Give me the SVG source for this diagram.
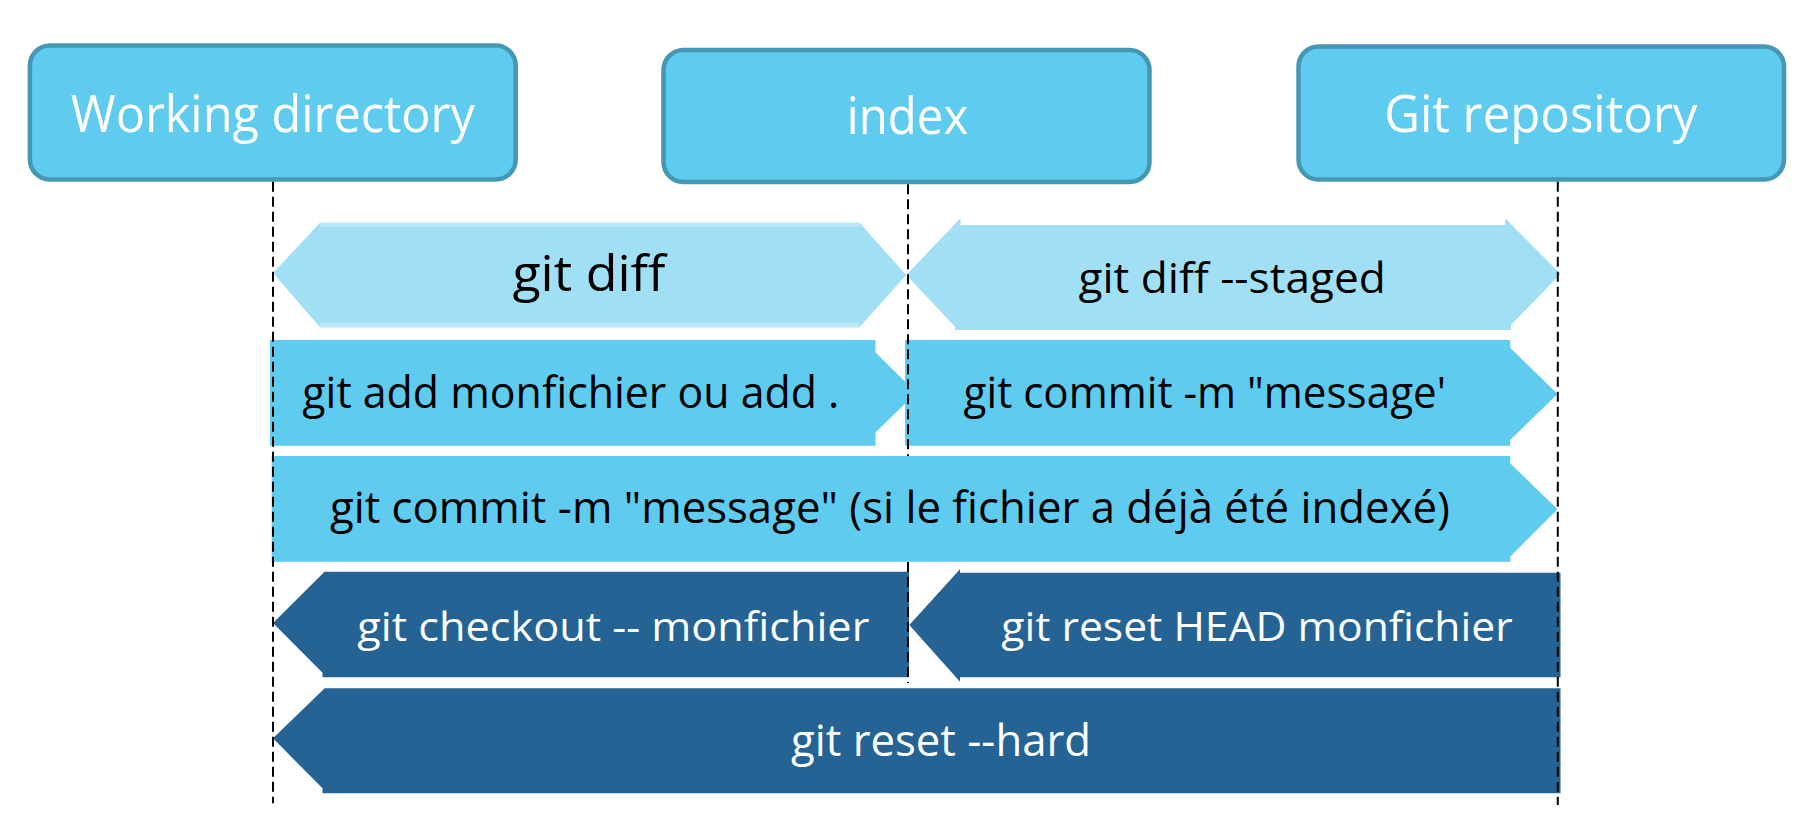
<svg xmlns="http://www.w3.org/2000/svg" width="1808" height="826" viewBox="0 0 1808 826">
<style>
  .node rect { fill: #5ECBEF; stroke: #4597B3; stroke-width: 4.5; }
  .ntxt { font-family: "Open Sans", "Noto Sans", "Liberation Sans", sans-serif; fill: #FFFFFF; font-size: 52px; }
  .light { fill: #A1E0F4; }
  .band { fill: #BCE9F8; }
  .mid { fill: #5ECBEF; }
  .dark { fill: #246394; }
  .btxt { font-family: "Open Sans", "Noto Sans", "Liberation Sans", sans-serif; fill: #000000; }
  .wtxt { font-family: "Open Sans", "Noto Sans", "Liberation Sans", sans-serif; fill: #FFFFFF; }
  .life { stroke: #000000; stroke-width: 2; stroke-dasharray: 10 5; fill: none; }
</style>
<rect x="0" y="0" width="1808" height="826" fill="#FFFFFF"/>

<g id="node-working-directory" class="node">
  <rect x="29.9" y="45.6" width="485.8" height="133.8" rx="20" ry="20"/>
  <text class="ntxt" x="70.8" y="131.7" textLength="404" lengthAdjust="spacingAndGlyphs">Working directory</text>
</g>
<g id="node-index" class="node">
  <rect x="663.5" y="50" width="486" height="132" rx="20" ry="20"/>
  <text class="ntxt" x="846.8" y="134" font-size="50" textLength="121.4" lengthAdjust="spacingAndGlyphs">index</text>
</g>
<g id="node-git-repository" class="node">
  <rect x="1298.5" y="46.6" width="485.5" height="133" rx="20" ry="20"/>
  <text class="ntxt" x="1384.2" y="131.7" textLength="313.3" lengthAdjust="spacingAndGlyphs">Git repository</text>
</g>

<g id="connectors">
  <g id="arrow-git-diff">
    <polygon class="light" points="273,273 320,222.7 859.5,222.7 906.2,275 859.5,327.3 320,327.3"/>
    <rect class="band" x="320" y="222.7" width="539.5" height="4"/>
    <rect class="band" x="320" y="322.9" width="539.5" height="4.4"/>
    <text class="btxt" x="512.4" y="291" font-size="50" textLength="153" lengthAdjust="spacingAndGlyphs">git diff</text>
  </g>
  <g id="arrow-git-diff-staged">
    <polygon class="light" points="906.2,275 960.5,218.3 960.5,225 1505.2,225 1505.2,218.3 1560.6,274 1511,325 1511,330 955,330 955,326.7"/>
    <text class="btxt" x="1078.4" y="292.7" font-size="42" textLength="307.4" lengthAdjust="spacingAndGlyphs">git diff --staged</text>
  </g>
  <g id="arrow-git-add">
    <polygon class="mid" points="270,340 875.5,340 875.5,352.5 916.3,392.8 875.5,432.5 875.5,445.7 270,445.7"/>
    <text class="btxt" x="302.3" y="408.3" font-size="43" textLength="537" lengthAdjust="spacingAndGlyphs">git add monfichier ou add .</text>
  </g>
  <g id="arrow-git-commit">
    <polygon class="mid" points="905,340 1510.2,340 1510.2,347.7 1557.5,394 1510.2,440 1510.2,445.7 905,445.7"/>
    <text class="btxt" x="963.6" y="408.3" font-size="43" textLength="482.4" lengthAdjust="spacingAndGlyphs">git commit -m "message'</text>
  </g>
  <g id="arrow-git-commit-direct">
    <polygon class="mid" points="271.7,456 1510.2,456 1510.2,463.3 1557.5,509.3 1510.2,556.7 1510.2,561.7 271.7,561.7"/>
    <text class="btxt" x="329.9" y="523.3" font-size="43" textLength="1120" lengthAdjust="spacingAndGlyphs">git commit -m "message" (si le fichier a déjà été indexé)</text>
  </g>
  <g id="arrow-git-checkout">
    <polygon class="dark" points="273,623 324.5,571.7 909,571.7 909,677.3 322.5,677.3 322.5,672.7"/>
    <text class="wtxt" x="357.3" y="640.5" font-size="41" textLength="512" lengthAdjust="spacingAndGlyphs">git checkout -- monfichier</text>
  </g>
  <g id="arrow-git-reset-head">
    <polygon class="dark" points="909.3,625 960,569.3 960,572.7 1560.5,572.7 1560.5,677.3 960,677.3 960,681.7"/>
    <text class="wtxt" x="1001.3" y="640.7" font-size="41" textLength="511.3" lengthAdjust="spacingAndGlyphs">git reset HEAD monfichier</text>
  </g>
  <g id="arrow-git-reset-hard">
    <polygon class="dark" points="273,738.3 324.7,688.3 1560.5,688.3 1560.5,793.3 322.5,793.3 322.5,788.3"/>
    <text class="wtxt" x="791" y="756" font-size="43" textLength="300" lengthAdjust="spacingAndGlyphs">git reset --hard</text>
  </g>
  <g id="lifelines">
    <line class="life" x1="273" y1="181.7" x2="273" y2="803.3"/>
    <line class="life" x1="908" y1="184.3" x2="908" y2="456"/>
    <line class="life" x1="908" y1="562" x2="908" y2="683"/>
    <line class="life" x1="1557.8" y1="181.7" x2="1557.8" y2="805"/>
  </g>
</g>
</svg>
